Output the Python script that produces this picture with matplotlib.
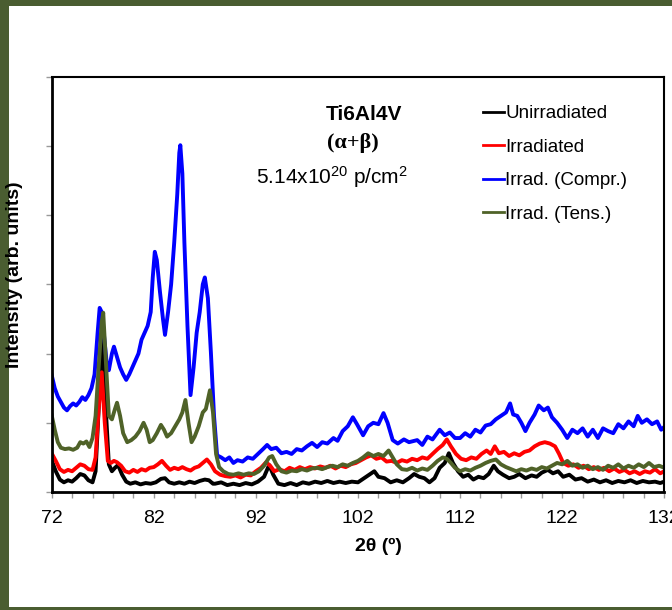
import matplotlib
matplotlib.use("Agg")
import matplotlib.pyplot as plt
from matplotlib.patches import Rectangle

plt.rcParams["mathtext.default"] = "regular"

# 2theta / intensity readings for each sample
unirr_2theta = [72, 72.4, 72.8, 73.2, 73.6, 74.0, 74.4, 74.8, 75.2, 75.6, 76.0, 76.3, 76.6, 76.9, 77.05,
                77.3, 77.6, 77.9, 78.2, 78.5, 78.9, 79.3, 79.7, 80.2, 80.7, 81.2, 81.7, 82.2, 82.7,
                83.1, 83.5, 84.0, 84.5, 85.0, 85.5, 86.0, 86.5, 87.0, 87.4, 87.8,
                88.0, 88.6, 89.2, 89.8, 90.4, 91.0, 91.6, 92.2, 92.8, 93.3, 93.7, 94.2, 94.8, 95.4,
                96.0, 96.6, 97.2, 97.8, 98.4, 99.0, 99.6, 100.2, 100.8, 101.4, 102.0, 102.6, 103.2,
                103.6, 104.0, 104.6, 105.2, 105.8, 106.4, 107.0, 107.5, 108.0, 108.5, 109.0, 109.5,
                110.0, 110.5, 110.9, 111.3, 111.8, 112.3, 112.8, 113.3, 113.8, 114.3, 114.8, 115.3,
                115.7, 116.2, 116.8, 117.3, 117.8, 118.4, 119.0, 119.5, 120.0, 120.6, 121.1, 121.6,
                122.1, 122.7, 123.3, 123.9, 124.5, 125.1, 125.7, 126.3, 126.9, 127.5, 128.1, 128.7,
                129.3, 129.9, 130.5, 131.1, 131.6, 132]
unirr_int = [0.46, 0.3, 0.18, 0.14, 0.17, 0.15, 0.2, 0.26, 0.24, 0.17, 0.14, 0.3, 1.2, 2.1, 2.2,
             1.2, 0.4, 0.3, 0.35, 0.39, 0.25, 0.15, 0.12, 0.14, 0.11, 0.13, 0.12, 0.14, 0.19,
             0.2, 0.14, 0.12, 0.14, 0.12, 0.15, 0.13, 0.16, 0.18, 0.17, 0.12,
             0.12, 0.14, 0.1, 0.12, 0.1, 0.13, 0.11, 0.15, 0.22, 0.39, 0.25, 0.12, 0.1, 0.13,
             0.1, 0.14, 0.12, 0.15, 0.13, 0.16, 0.13, 0.15, 0.13, 0.15, 0.14, 0.2, 0.26,
             0.3, 0.22, 0.2, 0.14, 0.17, 0.14, 0.2, 0.26, 0.22, 0.2, 0.14, 0.2,
             0.35, 0.42, 0.56, 0.42, 0.3, 0.22, 0.25, 0.18, 0.22, 0.2, 0.26, 0.38,
             0.3, 0.25, 0.2, 0.22, 0.26, 0.2, 0.24, 0.22, 0.28, 0.32, 0.27, 0.3,
             0.22, 0.25, 0.18, 0.2, 0.15, 0.18, 0.14, 0.17, 0.13, 0.16, 0.14, 0.17,
             0.13, 0.16, 0.14, 0.15, 0.13, 0.15]

irr_2theta = [72, 72.4, 72.8, 73.2, 73.6, 74.0, 74.4, 74.8, 75.2, 75.6, 76.0, 76.3, 76.6, 76.9, 77.2,
              77.5, 77.8, 78.1, 78.4, 78.8, 79.2, 79.6, 80.0, 80.4, 80.8, 81.2, 81.6, 82.0, 82.4,
              82.8, 83.2, 83.6, 84.0, 84.4, 84.8, 85.2, 85.6, 86.0, 86.4, 86.8, 87.2, 87.6, 88.0,
              88.5, 89.0, 89.5, 90.0, 90.5, 91.0, 91.5, 92.0, 92.5, 93.0, 93.4, 93.8, 94.3, 94.8,
              95.3, 95.8, 96.3, 96.8, 97.3, 97.8, 98.3, 98.8, 99.3, 99.8, 100.3, 100.8, 101.3,
              101.8, 102.3, 102.8, 103.3, 103.8, 104.3, 104.8, 105.3, 105.8, 106.3, 106.8, 107.3,
              107.8, 108.3, 108.8, 109.3, 109.8, 110.3, 110.7, 111.1, 111.6, 112.1, 112.6, 113.1,
              113.6, 114.1, 114.6, 115.0, 115.4, 115.8, 116.3, 116.8, 117.3, 117.8, 118.3, 118.8,
              119.3, 119.8, 120.3, 120.8, 121.3, 121.7, 122.1, 122.6, 123.1, 123.6, 124.1, 124.6,
              125.1, 125.6, 126.1, 126.6, 127.1, 127.6, 128.1, 128.6, 129.1, 129.6, 130.1, 130.6,
              131.1, 131.6, 132]
irr_int = [0.56, 0.45, 0.33, 0.29, 0.32, 0.3, 0.35, 0.4, 0.38, 0.33, 0.32, 0.5, 1.2, 1.73, 1.0,
           0.45, 0.42, 0.45, 0.43, 0.38, 0.3, 0.28, 0.32, 0.29, 0.33, 0.31, 0.35, 0.36, 0.4,
           0.45, 0.38, 0.32, 0.35, 0.33, 0.36, 0.33, 0.31, 0.35, 0.37, 0.42, 0.47, 0.4, 0.3,
           0.25, 0.23, 0.22, 0.24, 0.21, 0.25, 0.24, 0.3, 0.35, 0.43, 0.38, 0.3, 0.33, 0.3,
           0.35, 0.32, 0.36, 0.33, 0.36, 0.34, 0.37, 0.35, 0.38, 0.34, 0.38, 0.36, 0.4,
           0.42, 0.46, 0.5, 0.53, 0.48, 0.5, 0.44, 0.45, 0.42, 0.46, 0.44, 0.48,
           0.46, 0.5, 0.48, 0.55, 0.62, 0.68, 0.76, 0.66, 0.55, 0.48, 0.46, 0.5,
           0.48, 0.55, 0.6, 0.55, 0.66, 0.56, 0.58, 0.52, 0.56, 0.53, 0.58, 0.6,
           0.66, 0.7, 0.72, 0.7, 0.66, 0.55, 0.42, 0.38, 0.4, 0.35, 0.38, 0.33,
           0.36, 0.32, 0.35, 0.3, 0.34, 0.29, 0.32, 0.27, 0.3, 0.26, 0.3, 0.28,
           0.33, 0.27, 0.3]

compr_2theta = [72, 72.3, 72.6, 72.9, 73.2, 73.5, 73.8, 74.1, 74.4, 74.7, 75.0, 75.3, 75.6, 75.9,
                76.2, 76.5, 76.7, 76.9, 77.1, 77.4, 77.6, 77.9, 78.1, 78.4, 78.7, 79.0, 79.3,
                79.6, 79.9, 80.2, 80.5, 80.8, 81.1, 81.4, 81.7, 81.9, 82.1, 82.3, 82.6, 82.9,
                83.1, 83.4, 83.7, 84.0, 84.3, 84.5, 84.6, 84.8, 85.0, 85.3, 85.6, 85.9, 86.2,
                86.5, 86.8, 87.0, 87.3, 87.6, 87.9, 88.2,
                88.6, 89.0, 89.4, 89.8, 90.2, 90.7, 91.2, 91.7, 92.2, 92.7, 93.1, 93.5, 94.0,
                94.5, 95.0, 95.5, 96.0, 96.5, 97.0, 97.5, 98.0, 98.5, 99.0, 99.6, 100.0, 100.5,
                101.0, 101.5, 101.9, 102.5, 103.0, 103.5, 104.0, 104.5, 104.9, 105.4, 105.9,
                106.5, 107.0, 107.8, 108.3, 108.8, 109.3, 110.0, 110.5, 111.0, 111.5, 112.0,
                112.5, 113.0, 113.5, 114.0, 114.5, 115.0, 115.5, 116.0, 116.5, 116.9, 117.2,
                117.6, 118.0, 118.4, 118.8, 119.3, 119.7, 120.2, 120.6, 121.0, 121.5, 122.0,
                122.5, 123.0, 123.5, 124.0, 124.5, 125.0, 125.5, 126.0, 126.5, 127.0, 127.5,
                128.0, 128.5, 129.0, 129.4, 129.8, 130.3, 130.8, 131.3, 131.7, 132]
compr_int = [1.69, 1.5, 1.38, 1.3, 1.22, 1.18, 1.24, 1.28, 1.25, 1.3, 1.37, 1.33, 1.4, 1.5,
             1.7, 2.3, 2.66, 2.6, 2.3, 1.85, 1.76, 2.0, 2.1, 1.95, 1.8, 1.7, 1.62,
             1.7, 1.8, 1.9, 2.0, 2.2, 2.3, 2.4, 2.6, 3.1, 3.47, 3.35, 2.9, 2.5,
             2.27, 2.6, 3.0, 3.6, 4.3, 4.9, 5.01, 4.6, 3.6, 2.4, 1.4, 1.8, 2.3,
             2.6, 3.0, 3.1, 2.8, 2.0, 1.1, 0.53,
             0.5, 0.46, 0.5, 0.42, 0.46, 0.44, 0.5, 0.48, 0.55, 0.62, 0.68, 0.62, 0.64,
             0.56, 0.58, 0.55, 0.62, 0.6, 0.66, 0.71, 0.65, 0.72, 0.7, 0.78, 0.74, 0.88,
             0.95, 1.08, 0.98, 0.82, 0.95, 1.0, 0.98, 1.14, 1.0, 0.75, 0.7,
             0.76, 0.72, 0.75, 0.68, 0.8, 0.76, 0.9, 0.82, 0.86, 0.78, 0.78,
             0.85, 0.8, 0.9, 0.86, 0.96, 0.98, 1.05, 1.1, 1.15, 1.28, 1.12,
             1.1, 1.0, 0.88, 1.0, 1.12, 1.25, 1.18, 1.22, 1.08, 1.0, 0.9,
             0.78, 0.9, 0.85, 0.92, 0.8, 0.9, 0.78, 0.92, 0.88, 0.85, 0.98,
             0.92, 1.02, 0.95, 1.1, 1.0, 1.05, 0.98, 1.02, 0.9, 0.94]

tens_2theta = [72, 72.3, 72.6, 72.9, 73.3, 73.7, 74.1, 74.5, 74.8, 75.1, 75.4, 75.7, 76.0, 76.3,
               76.6, 76.9, 77.05, 77.3, 77.6, 77.9, 78.2, 78.4, 78.7, 79.0, 79.4, 79.8, 80.2,
               80.6, 81.0, 81.3, 81.6, 81.9, 82.3, 82.7, 83.0, 83.3, 83.7, 84.1, 84.5, 84.8,
               85.1, 85.4, 85.7, 86.0, 86.4, 86.8, 87.1, 87.5, 87.8, 88.1, 88.4, 88.8, 89.3,
               89.8, 90.3, 90.8, 91.3, 91.8, 92.3, 92.8, 93.3, 93.6, 94.0, 94.5, 95.0, 95.5,
               96.0, 96.5, 97.0, 97.5, 98.0, 98.5, 99.0, 99.5, 100.0, 100.5, 101.0, 101.5,
               102.0, 102.5, 103.0, 103.5, 104.0, 104.5, 105.0, 105.4, 105.8, 106.3, 106.8,
               107.3, 107.8, 108.3, 108.8, 109.3, 109.8, 110.3, 110.7, 111.1, 111.5, 112.0,
               112.5, 113.0, 113.5, 114.0, 114.5, 115.0, 115.5, 116.0, 116.5, 117.0, 117.5,
               118.0, 118.5, 119.0, 119.5, 120.0, 120.5, 121.0, 121.5, 122.0, 122.5, 123.0,
               123.5, 124.0, 124.5, 125.0, 125.5, 126.0, 126.5, 127.0, 127.5, 128.0, 128.5,
               129.0, 129.5, 130.0, 130.5, 131.0, 131.5, 132]
tens_int = [1.11, 0.9, 0.72, 0.64, 0.62, 0.63, 0.61, 0.64, 0.72, 0.7, 0.73, 0.65, 0.78, 1.1,
            1.8, 2.45, 2.59, 1.9, 1.1, 1.05, 1.2, 1.29, 1.1, 0.85, 0.72, 0.75, 0.8,
            0.88, 1.0, 0.9, 0.72, 0.75, 0.85, 0.97, 0.9, 0.8, 0.85, 0.95, 1.05, 1.15,
            1.33, 1.0, 0.72, 0.8, 0.95, 1.15, 1.2, 1.47, 1.15, 0.55, 0.36, 0.3, 0.26,
            0.25, 0.27, 0.25, 0.27, 0.26, 0.3, 0.38, 0.5, 0.52, 0.4, 0.3, 0.28, 0.31,
            0.3, 0.33, 0.31, 0.34, 0.35, 0.33, 0.36, 0.38, 0.36, 0.4, 0.38, 0.42,
            0.45, 0.5, 0.56, 0.52, 0.55, 0.52, 0.6, 0.5, 0.4, 0.33, 0.32,
            0.35, 0.31, 0.34, 0.32, 0.38, 0.45, 0.5, 0.48, 0.42, 0.35, 0.3,
            0.33, 0.31, 0.35, 0.38, 0.42, 0.45, 0.47, 0.4, 0.36, 0.33, 0.3,
            0.33, 0.31, 0.34, 0.32, 0.36, 0.34, 0.38, 0.42, 0.4, 0.45, 0.38,
            0.4, 0.35, 0.38, 0.33, 0.36, 0.32, 0.38, 0.35, 0.4, 0.34, 0.38,
            0.35, 0.4, 0.36, 0.42, 0.36, 0.38, 0.35]

labels = ["Unirradiated", "Irradiated", "Irrad. (Compr.)", "Irrad. (Tens.)"]
colors = ["#000000", "#ff0000", "#0000ff", "#4f6228"]
x_ticks = [72, 82, 92, 102, 112, 122, 132]

NARROW = ["Liberation Sans Narrow", "Liberation Sans", "DejaVu Sans"]
ARIAL = ["Liberation Sans", "DejaVu Sans"]

fig = plt.figure(figsize=(6.72, 6.10), dpi=100)
fig.patch.set_facecolor("#4a5d31")
# white slide panel
fig.add_artist(Rectangle((9 / 672, 3 / 610), 1.0, 601 / 610, transform=fig.transFigure,
                         facecolor="white", edgecolor="none", zorder=0))

ax = fig.add_axes([0.0769, 0.1934, 0.9116, 0.6809])
series = [(unirr_2theta, unirr_int), (irr_2theta, irr_int),
          (compr_2theta, compr_int), (tens_2theta, tens_int)]
for (xs, ys), lab, col in zip(series, labels, colors):
    ax.plot(xs, ys, color=col, lw=2.8, label=lab, solid_joinstyle="round")

ax.set_xlim(72, 132)
ax.set_ylim(0, 6)
ax.set_xticks(x_ticks)
ax.set_xticks(range(72, 133, 2), minor=True)
ax.set_yticks(range(0, 7))
ax.set_yticklabels([])
ax.tick_params(axis="both", which="both", direction="out", length=4, width=1, color="#999999")
ax.tick_params(axis="x", which="major", pad=9, labelsize=14)
for t in ax.get_xticklabels():
    t.set_family(NARROW)
for side in ["left", "bottom"]:
    ax.spines[side].set_linewidth(2)
for side in ["top", "right"]:
    ax.spines[side].set_linewidth(1.5)

ax.set_xlabel("2θ (º)", fontsize=14, fontweight="bold", family=NARROW)
ax.xaxis.set_label_coords((378 - 51.7) / 612.6, (492 - 538) / 415.3)
ax.set_ylabel("Intensity (arb. units)", fontsize=14, fontweight="bold", family=NARROW)
ax.yaxis.set_label_coords((23 - 51.7) / 612.6, (492 - 275) / 415.3)

ax.text(0.509, 0.91, "Ti6Al4V", transform=ax.transAxes, ha="center", va="center",
        fontsize=15, fontweight="bold", family=ARIAL)
ax.text(0.492, 0.84, "(α+β)", transform=ax.transAxes, ha="center", va="center",
        fontsize=16, fontweight="bold", family=["Liberation Serif", "DejaVu Serif"])
ax.text(0.458, 0.758, "5.14x10$^{20}$ p/cm$^{2}$", transform=ax.transAxes, ha="center",
        va="center", fontsize=15, family=ARIAL)

leg = ax.legend(loc="upper left", bbox_to_anchor=(0.704, 0.931), frameon=False,
                borderpad=0, borderaxespad=0, handlelength=1.1, handletextpad=0.1,
                labelspacing=0.87, prop={"family": ARIAL, "size": 13.5})
for h in leg.legend_handles:
    h.set_linewidth(2)

fig.savefig("out.png", dpi=100, facecolor=fig.get_facecolor())
